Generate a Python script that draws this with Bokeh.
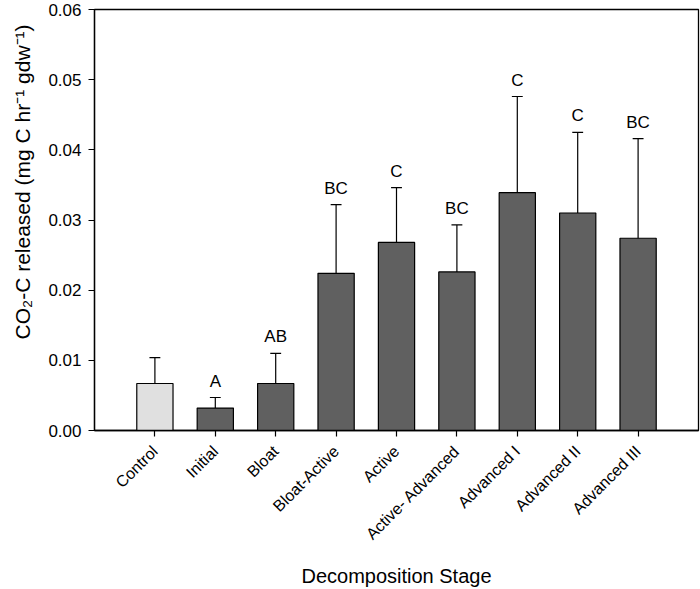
from bokeh.plotting import figure
from bokeh.models import ColumnDataSource, FixedTicker, LabelSet, Title, Range1d
from bokeh.core.properties import value
from bokeh.embed import file_html
from bokeh.resources import INLINE
import math

stages = ["Control", "Initial", "Bloat", "Bloat-Active", "Active", "Active- Advanced",
          "Advanced I", "Advanced II", "Advanced III"]
means = [0.0067, 0.0032, 0.0067, 0.0224, 0.0268, 0.0226, 0.0339, 0.0310, 0.0274]
errors = [0.0037, 0.0015, 0.0043, 0.0098, 0.0078, 0.0067, 0.0137, 0.0115, 0.0142]
letters = ["", "A", "AB", "BC", "C", "BC", "C", "C", "BC"]
y_ticks = [0.00, 0.01, 0.02, 0.03, 0.04, 0.05, 0.06]
y_title = "CO\u2082-C released (mg C hr\u207b\u00b9 gdw\u207b\u00b9)"
x_title = "Decomposition Stage"

FONT = "Liberation Sans"
xs = list(range(1, len(stages) + 1))
colors = ["#e0e0e0"] + ["#606060"] * (len(stages) - 1)
tops = [m + e for m, e in zip(means, errors)]
cap_half = 0.09

src = ColumnDataSource(dict(
    x=xs, mean=means, top=tops, color=colors, letter=letters,
    cl=[x - cap_half for x in xs], cr=[x + cap_half for x in xs],
))

p = figure(width=700, height=589, output_backend="svg", toolbar_location=None,
           x_range=Range1d(0, 10), y_range=Range1d(0, 0.06),
           min_border_left=93, min_border_right=2, min_border_top=9,
           min_border_bottom=158)

p.vbar(x="x", top="mean", bottom=0, width=0.6, fill_color="color",
       line_color="black", line_width=1.2, source=src)
p.segment(x0="x", y0="mean", x1="x", y1="top", line_color="black",
          line_width=1.2, source=src)
p.segment(x0="cl", y0="top", x1="cr", y1="top", line_color="black",
          line_width=1.2, source=src)

labels = LabelSet(x="x", y="top", text="letter", source=src, y_offset=11,
                  text_align="center", text_baseline="alphabetic",
                  text_font=value(FONT), text_font_size=value("17px"),
                  text_color="black")
p.add_layout(labels)

# y axis title, placed like the original (above the frame centre)
ytitle = Title(text=y_title, align="left", offset=91, standoff=20,
               vertical_align="top",
               text_font=FONT, text_font_size="21px",
               text_font_style="normal", text_color="black")
p.add_layout(ytitle, "left")

p.grid.visible = False
p.outline_line_color = "black"
p.outline_line_width = 1.3
p.background_fill_color = "white"
p.border_fill_color = "white"

# x axis
p.xaxis.ticker = FixedTicker(ticks=xs)
p.xaxis.major_label_overrides = {x: s for x, s in zip(xs, stages)}
p.xaxis.major_label_orientation = math.pi / 4
p.xaxis.minor_tick_line_color = None
p.xaxis.major_tick_out = 6
p.xaxis.major_tick_in = 0
p.xaxis.major_label_standoff = 12
p.xaxis.axis_label = x_title
p.xaxis.axis_label_standoff = 13

# y axis
p.yaxis.ticker = FixedTicker(ticks=y_ticks)
p.yaxis.major_label_overrides = {v: f"{v:.2f}" for v in y_ticks}
p.yaxis.minor_tick_line_color = None
p.yaxis.major_tick_out = 6
p.yaxis.major_tick_in = 0
p.yaxis.major_label_standoff = 7

for ax in (p.xaxis, p.yaxis):
    ax.axis_line_color = "black"
    ax.axis_line_width = 1.3
    ax.major_tick_line_color = "black"
    ax.major_tick_line_width = 1.2
    ax.major_label_text_font = FONT
    ax.major_label_text_color = "black"
    ax.axis_label_text_font = FONT
    ax.axis_label_text_font_style = "normal"
    ax.axis_label_text_color = "black"
    ax.axis_label_text_font_size = "20px"
p.xaxis.major_label_text_font_size = "16px"
p.yaxis.major_label_text_font_size = "17px"

open("out.html", "w").write(file_html(p, INLINE))
